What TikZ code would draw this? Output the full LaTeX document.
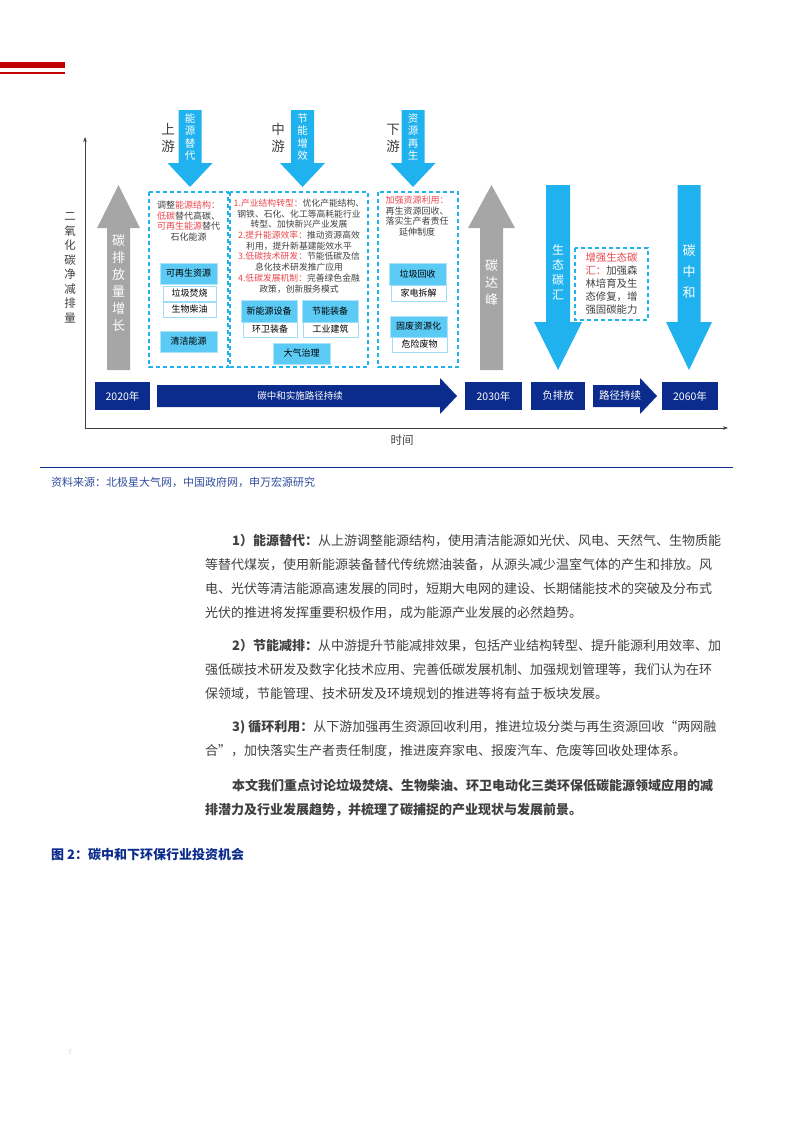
\documentclass[tikz,border=0pt]{standalone}
\usepackage{fontspec}
\usetikzlibrary{arrows.meta}
\setmainfont{Noto Sans CJK SC}
\definecolor{navy}{HTML}{0B2C8C}
\definecolor{sky}{HTML}{1FB2EE}
\definecolor{lsky}{HTML}{5BCAF4}
\definecolor{gry}{HTML}{A6A6A6}
\definecolor{txt}{HTML}{404040}
\definecolor{rd}{HTML}{E8474C}
\definecolor{redbar}{HTML}{C00000}
\newcommand{\R}[1]{\textcolor{rd}{#1}}
\newcommand{\fs}[2]{\fontsize{#1}{#2}\selectfont}
\tikzset{
 dbox/.style={draw=sky,line width=1.3pt,dash pattern=on 4pt off 3pt},
 fbox/.style={fill=lsky,draw=lsky!50,inner sep=0pt,font=\fs{9}{10}},
 wbox/.style={fill=white,draw=lsky!60,line width=0.8pt,inner sep=0pt,font=\fs{9}{10}},
 nbox/.style={fill=navy,text=white,inner sep=0pt,font=\fs{10.5}{12}},
 vt/.style={text=white,align=center,inner sep=0pt},
 para/.style={anchor=west,inner sep=0pt,text=txt,font=\fs{13}{15}},
}
\begin{document}
\begin{tikzpicture}[x=1pt,y=-1pt]
\useasboundingbox (0,0) rectangle (793,1122);
\fill[redbar] (0,62) rectangle (65,68);
\fill[redbar] (0,71.5) rectangle (65,73.5);
% axes
\coordinate (o) at (85,428);
\coordinate (yt) at (85,137);
\coordinate (xt) at (728,428);
\draw[txt,line width=0.8pt,-{Stealth[length=5pt]}] (o) -- (yt);
\draw[txt,line width=0.8pt,-{Stealth[length=5pt]}] (o) -- (xt);
\node[text=txt,font=\fs{11.5}{13}] (time) at (402,440) {时间};
\node[text=txt,font=\fs{11.5}{14.5},align=center] (ylab) at (70,268) {二\\氧\\化\\碳\\净\\减\\排\\量};
% gray arrows
\fill[gry] (107,370) -- (107,228) -- (97,228) -- (118.5,185) -- (140,228) -- (130,228) -- (130,370) -- cycle;
\node[vt,font=\fs{13}{17}] (a1) at (118.5,283) {碳\\排\\放\\量\\增\\长};
\fill[gry] (480,370) -- (480,228) -- (468,228) -- (491.5,185) -- (515,228) -- (503,228) -- (503,370) -- cycle;
\node[vt,font=\fs{13}{17}] (a2) at (491.5,283) {碳\\达\\峰};
% top blue arrows
\foreach \cx/\lab/\t in {190/up/能\\源\\替\\代,302.5/mid/节\\能\\增\\效,413/dn/资\\源\\再\\生}{
 \fill[sky] (\cx-11.5,110) -- (\cx+11.5,110) -- (\cx+11.5,163) -- (\cx+22.5,163) -- (\cx,187) -- (\cx-22.5,163) -- (\cx-11.5,163) -- cycle;
 \node[vt,font=\fs{10.5}{12.3}] (t\lab) at (\cx,137) {\t};
}
\node[text=txt,font=\fs{13.5}{17},align=center] (l1) at (168,138) {上\\游};
\node[text=txt,font=\fs{13.5}{17},align=center] (l2) at (278,138) {中\\游};
\node[text=txt,font=\fs{13.5}{17},align=center] (l3) at (393,138) {下\\游};
% right blue arrows
\fill[sky] (546,185) -- (570,185) -- (570,322) -- (582,322) -- (558,370) -- (534,322) -- (546,322) -- cycle;
\node[vt,font=\fs{12}{15}] (a3) at (558,272) {生\\态\\碳\\汇};
\fill[sky] (677.5,185) -- (700.5,185) -- (700.5,322) -- (712,322) -- (689,370) -- (666,322) -- (677.5,322) -- cycle;
\node[vt,font=\fs{13}{21}] (a4) at (689,272) {碳\\中\\和};
% dashed boxes
\draw[dbox] (149,192) rectangle (228,367);
\draw[dbox] (230,192) rectangle (368,367);
\draw[dbox] (378,192) rectangle (458,367);
\draw[dbox] (575,248) rectangle (648,320);
% box1
\node[text=txt,font=\fs{9}{10.6},align=center] (b1t) at (188.5,221) {调整\R{能源结构：}\\\R{低碳}替代高碳、\\\R{可再生能源}替代\\石化能源};
\node[fbox,minimum width=57pt,minimum height=21pt] (n1) at (188.5,273.5) {可再生资源};
\node[wbox,minimum width=53pt,minimum height=15pt] (n2) at (189.5,293.5) {垃圾焚烧};
\node[wbox,minimum width=53pt,minimum height=15pt] (n3) at (189.5,309.5) {生物柴油};
\node[fbox,minimum width=57pt,minimum height=21pt] (n4) at (188.5,341.5) {清洁能源};
% box2
\node[text=txt,font=\fs{8.8}{10.7},align=center] (b2t) at (299,246) {\R{1.产业结构转型：}优化产能结构、\\钢铁、石化、化工等高耗能行业\\转型、加快新兴产业发展\\\R{2.提升能源效率：}推动资源高效\\利用，提升新基建能效水平\\\R{3.低碳技术研发：}节能低碳及信\\息化技术研发推广应用\\\R{4.低碳发展机制：}完善绿色金融\\政策，创新服务模式};
\node[fbox,minimum width=56pt,minimum height=22pt] (m1) at (269,311) {新能源设备};
\node[wbox,minimum width=54pt,minimum height=15pt] (m2) at (270,329.5) {环卫装备};
\node[fbox,minimum width=56pt,minimum height=22pt] (m3) at (330,311) {节能装备};
\node[wbox,minimum width=55pt,minimum height=15pt] (m4) at (330.5,329.5) {工业建筑};
\node[fbox,minimum width=57pt,minimum height=21pt] (m5) at (301.5,353.5) {大气治理};
% box3
\node[text=txt,font=\fs{9}{10.6},align=center] (b3t) at (417,216) {\R{加强资源利用：}\\再生资源回收、\\落实生产者责任\\延伸制度};
\node[fbox,minimum width=57pt,minimum height=22pt] (k1) at (417.5,274) {垃圾回收};
\node[wbox,minimum width=55pt,minimum height=16pt] (k2) at (418.5,293) {家电拆解};
\node[fbox,minimum width=57pt,minimum height=21pt] (k3) at (418.5,326.5) {固废资源化};
\node[wbox,minimum width=55pt,minimum height=15pt] (k4) at (419.5,344.5) {危险废物};
% eco box
\node[text=txt,font=\fs{10.4}{13},align=left] (eco) at (611.5,284) {\R{增强生态碳}\\\R{汇：}加强森\\林培育及生\\态修复，增\\强固碳能力};
% bottom timeline
\node[nbox,minimum width=55pt,minimum height=28pt] (y20) at (122.5,396) {2020年};
\fill[navy] (157,385) -- (440,385) -- (440,378) -- (457,396) -- (440,414) -- (440,407) -- (157,407) -- cycle;
\node[text=white,font=\fs{9.5}{11}] (path) at (300,396) {碳中和实施路径持续};
\node[nbox,minimum width=57pt,minimum height=28pt] (y30) at (493.5,396) {2030年};
\node[nbox,minimum width=54pt,minimum height=28pt] (neg) at (558,396) {负排放};
\fill[navy] (593,385) -- (640,385) -- (640,378) -- (657,396) -- (640,414) -- (640,407) -- (593,407) -- cycle;
\node[text=white,font=\fs{10.5}{12}] (cont) at (620,396) {路径持续};
\node[nbox,minimum width=56pt,minimum height=28pt] (y60) at (690,396) {2060年};
% source
\draw[navy,line width=0.7pt] (40,467) -- (733,467);
\node[anchor=west,inner sep=0pt,text=navy!85,font=\fs{11}{13}] (src) at (51,482) {资料来源：北极星大气网，中国政府网，申万宏源研究};
% paragraphs
\node[para] (p11) at (232,541) {\textbf{1）能源替代：}从上游调整能源结构，使用清洁能源如光伏、风电、天然气、生物质能};
\node[para] (p12) at (205,565) {等替代煤炭，使用新能源装备替代传统燃油装备，从源头减少温室气体的产生和排放。风};
\node[para] (p13) at (205,589) {电、光伏等清洁能源高速发展的同时，短期大电网的建设、长期储能技术的突破及分布式};
\node[para] (p14) at (205,613) {光伏的推进将发挥重要积极作用，成为能源产业发展的必然趋势。};
\node[para] (p21) at (232,646) {\textbf{2）节能减排：}从中游提升节能减排效果，包括产业结构转型、提升能源利用效率、加};
\node[para] (p22) at (205,670) {强低碳技术研发及数字化技术应用、完善低碳发展机制、加强规划管理等，我们认为在环};
\node[para] (p23) at (205,694) {保领域，节能管理、技术研发及环境规划的推进等将有益于板块发展。};
\node[para] (p31) at (232,727) {\textbf{3)\ 循环利用：}从下游加强再生资源回收利用，推进垃圾分类与再生资源回收“两网融};
\node[para] (p32) at (205,751) {合”，加快落实生产者责任制度，推进废弃家电、报废汽车、危废等回收处理体系。};
\node[para,font=\fs{13}{15}\bfseries] (p41) at (232,786) {本文我们重点讨论垃圾焚烧、生物柴油、环卫电动化三类环保低碳能源领域应用的减};
\node[para,font=\fs{13}{15}\bfseries] (p42) at (205,810) {排潜力及行业发展趋势，并梳理了碳捕捉的产业现状与发展前景。};
\node[anchor=west,inner sep=0pt,text=navy,font=\fs{13}{15}\bfseries] (cap) at (51,855) {图 2：碳中和下环保行业投资机会};
\node[text=gry!70,font=\fs{6}{7}] (pg) at (70,1052) {7};
\end{tikzpicture}
\end{document}
